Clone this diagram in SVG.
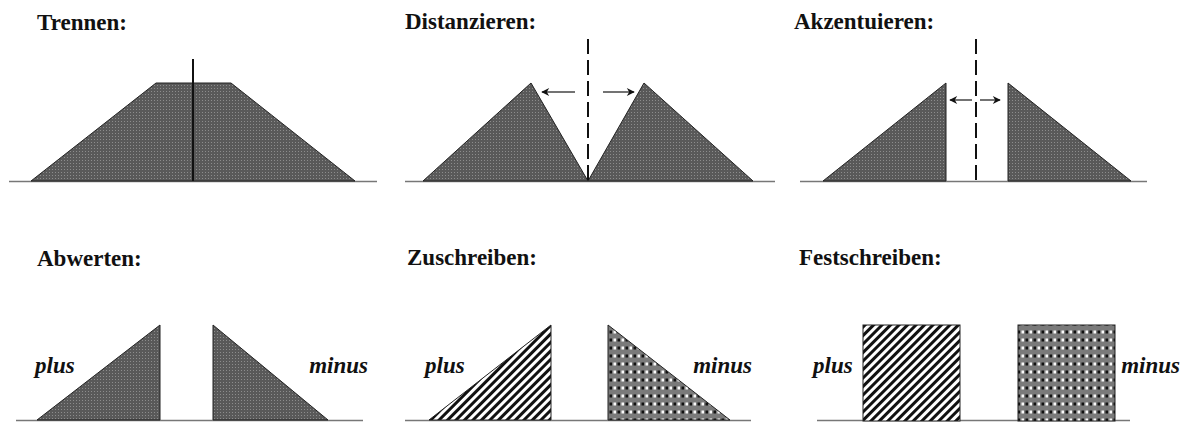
<svg xmlns="http://www.w3.org/2000/svg" width="1186" height="422" viewBox="0 0 1186 422">
<style>
.title{font-family:"Liberation Serif","Times New Roman",serif;font-weight:bold;font-size:23px;fill:#111}
.lab{font-family:"Liberation Serif","Times New Roman",serif;font-weight:bold;font-style:italic;font-size:23px;fill:#111}
.base{stroke:#777;stroke-width:1.5;fill:none}
.shape{stroke:#222;stroke-width:1}
.dark{fill:url(#dots)}
.stripe{fill:url(#stripes)}
.check{fill:url(#checks)}
.dash{stroke:#111;stroke-width:2;stroke-dasharray:15 6;fill:none}
.arrow{stroke:#444;stroke-width:1.5;fill:none;marker-end:url(#ah)}
</style>
<defs>
<pattern id="dots" width="3" height="3" patternUnits="userSpaceOnUse">
<rect width="3" height="3" fill="#595959"/>
<rect x="1" y="1" width="1" height="1" fill="#8c8c8c"/>
</pattern>
<pattern id="stripes" width="6" height="6" patternUnits="userSpaceOnUse" patternTransform="rotate(45)">
<rect width="6" height="6" fill="#fff"/>
<rect width="3" height="6" fill="#111"/>
</pattern>
<pattern id="checks" width="8" height="8" patternUnits="userSpaceOnUse">
<rect width="8" height="8" fill="#7a7a7a"/>
<rect x="1.5" y="2.5" width="2.5" height="3" fill="#111"/>
<rect x="5.5" y="2.5" width="2.5" height="3" fill="#fafafa"/>
</pattern>
<marker id="ah" viewBox="0 0 10 10" refX="9" refY="5" markerWidth="9" markerHeight="8" markerUnits="userSpaceOnUse" orient="auto">
<path d="M0,0 L10,5 L0,10 L3,5 Z" fill="#111"/>
</marker>
</defs>

<g id="trennen">
<text class="title" x="37" y="30">Trennen:</text>
<line class="base" x1="9" y1="181.5" x2="377" y2="181.5"/>
<polygon class="shape dark" points="31,181 156,83 231,83 355,181"/>
<line x1="193" y1="59" x2="193" y2="181" stroke="#111" stroke-width="2"/>
</g>

<g id="distanzieren">
<text class="title" x="405" y="29">Distanzieren:</text>
<line class="base" x1="405" y1="181.5" x2="775" y2="181.5"/>
<polygon class="shape dark" points="423,181 531,83 588,181"/>
<polygon class="shape dark" points="588,181 644,83 753,181"/>
<line class="dash" x1="588" y1="39" x2="588" y2="181"/>
</g>

<g id="akzentuieren">
<text class="title" x="794" y="29">Akzentuieren:</text>
<line class="base" x1="800" y1="181.5" x2="1147" y2="181.5"/>
<polygon class="shape dark" points="823,181 946,83 946,181"/>
<polygon class="shape dark" points="1008,83 1008,181 1131,181"/>
<line class="dash" x1="976" y1="39" x2="976" y2="181"/>
</g>

<g id="abwerten">
<text class="title" x="37" y="266">Abwerten:</text>
<line class="base" x1="16" y1="420.5" x2="363" y2="420.5"/>
<polygon class="shape dark" points="37,420 160,325 160,420"/>
<polygon class="shape dark" points="213,325 213,420 328,420"/>
<text class="lab" x="35" y="373">plus</text>
<text class="lab" x="368" y="373" text-anchor="end">minus</text>
</g>

<g id="zuschreiben">
<text class="title" x="407" y="265">Zuschreiben:</text>
<line class="base" x1="405" y1="420.5" x2="751" y2="420.5"/>
<polygon class="shape stripe" points="429,420 551,325 551,420"/>
<polygon class="shape check" points="608,325 608,420 730,420"/>
<text class="lab" x="425" y="373">plus</text>
<text class="lab" x="752" y="373" text-anchor="end">minus</text>
</g>

<g id="festschreiben">
<text class="title" x="799" y="265">Festschreiben:</text>
<line class="base" x1="817" y1="420.5" x2="1130" y2="420.5"/>
<rect class="shape stripe" x="863" y="325" width="97" height="96"/>
<rect class="shape check" x="1018" y="325" width="97" height="96"/>
<text class="lab" x="813" y="373">plus</text>
<text class="lab" x="1180" y="373" text-anchor="end">minus</text>
</g>

<g id="connectors">
<line class="arrow" x1="575" y1="92" x2="542" y2="92"/>
<line class="arrow" x1="603" y1="92" x2="634" y2="92"/>
<line class="arrow" x1="972" y1="100" x2="950" y2="100"/>
<line class="arrow" x1="980" y1="100" x2="1000" y2="100"/>
</g>
</svg>
